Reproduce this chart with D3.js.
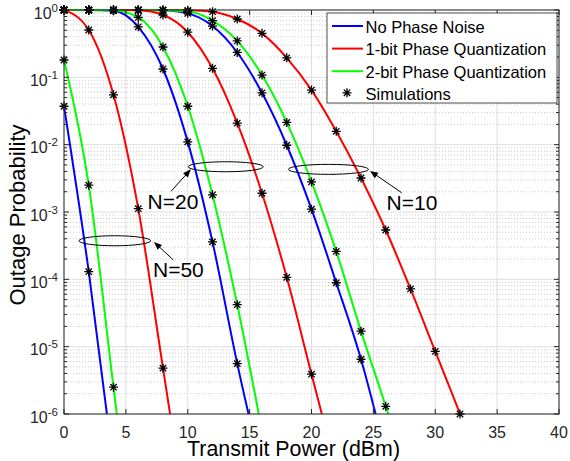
<!DOCTYPE html>
<html>
<head>
<meta charset="utf-8">
<script src="https://cdn.jsdelivr.net/npm/d3@7"></script>
<style>
body{margin:0;background:#fff;}
svg{font-family:"Liberation Sans",Arial,Helvetica,sans-serif;}
</style>
</head>
<body>
<div class="chart_container"></div>
<script>
// transmit power (dBm), one point every 2 dBm
var power = [0,2,4,6,8,10,12,14,16,18,20,22,24,26,28,30,32,34];

// outage probability (last point of each list lies just below 1e-6)
var noNoiseN10 = [1,1,1,1,0.989,0.891,0.578,0.234,0.0589,9.8e-3,1.1e-3,8.9e-5,6.5e-6,2.5e-7];
var oneBitN10  = [1,1,1,1,1,0.989,0.944,0.735,0.450,0.195,0.0646,0.0158,3.2e-3,5.4e-4,7.2e-5,8.5e-6,1.0e-6,1.0e-7];
var twoBitN10  = [1,1,1,1,0.995,0.955,0.693,0.347,0.108,0.0214,2.8e-3,2.6e-4,1.7e-5,1.3e-6,8.3e-8];

var noNoiseN20 = [1,1,0.977,0.562,0.133,0.011,3.6e-4,5.6e-6,1.4e-7];
var oneBitN20  = [1,1,1,0.989,0.843,0.468,0.136,0.0209,1.9e-3,1.07e-4,3.9e-6,1.5e-7];
var twoBitN20  = [1,1,0.989,0.776,0.282,0.0372,1.8e-3,4.2e-5,5.6e-7];

var noNoiseN50 = [0.0372,1.3e-4,1.7e-7];
var oneBitN50  = [1,0.505,0.055,1.12e-3,4.8e-6,2e-8];
var twoBitN50  = [0.181,2.5e-3,2.5e-6,2.5e-9];

var xTicks = [0,5,10,15,20,25,30,35,40];
var yExponents = [0,-1,-2,-3,-4,-5,-6];
var legendNames = ["No Phase Noise","1-bit Phase Quantization","2-bit Phase Quantization","Simulations"];

// annotation ellipses: [x from, x to] in dBm, y in probability
var groupLabels = ["N=10","N=20","N=50"];
var ellipseX = [[18.13,24.6],[10.04,16.1],[1.21,7.0]];
var ellipseY = [4.3e-3,4.7e-3,3.74e-4];
var arrowTip = [[24.73,4.07e-3],[10.25,4.3e-3],[7.27,3.6e-4]];
var arrowTail = [[27.29,1.93e-3],[8.65,2.03e-3],[8.83,1.94e-4]];
var labelPos = [[26.07,1.07e-3],[6.75,1.1e-3],[7.19,1.09e-4]];

var blue = "#0000ff", red = "#ff0000", green = "#00ff00";
var series = [
    {v: noNoiseN10, c: blue}, {v: oneBitN10, c: red}, {v: twoBitN10, c: green},
    {v: noNoiseN20, c: blue}, {v: oneBitN20, c: red}, {v: twoBitN20, c: green},
    {v: noNoiseN50, c: blue}, {v: oneBitN50, c: red}, {v: twoBitN50, c: green}
];

var W = 570, H = 461;
var pLeft = 64, pRight = 559, pTop = 10, pBottom = 414;

var svg = d3.select(".chart_container").append("svg")
    .attr("width", W).attr("height", H);

var x = d3.scaleLinear().domain([0,40]).range([pLeft,pRight]);
var y = d3.scaleLog().domain([1e-6,1]).range([pBottom,pTop]);

// minor y values
var yMinor = [];
yExponents.slice(0,-1).forEach(function(e){
    for (var m = 2; m <= 9; m++) yMinor.push(m*Math.pow(10,e-1));
});

// grid
var grid = svg.append("g");
grid.selectAll(".minor").data(yMinor).enter().append("line")
    .attr("x1",pLeft).attr("x2",pRight)
    .attr("y1",function(d){return y(d);}).attr("y2",function(d){return y(d);})
    .attr("stroke","#bdbdbd").attr("stroke-width",0.8).attr("stroke-dasharray","1,2");
grid.selectAll(".vx").data(xTicks).enter().append("line")
    .attr("x1",function(d){return x(d);}).attr("x2",function(d){return x(d);})
    .attr("y1",pTop).attr("y2",pBottom)
    .attr("stroke","#dedede").attr("stroke-width",1);
grid.selectAll(".hy").data(yExponents).enter().append("line")
    .attr("x1",pLeft).attr("x2",pRight)
    .attr("y1",function(d){return y(Math.pow(10,d));}).attr("y2",function(d){return y(Math.pow(10,d));})
    .attr("stroke","#dedede").attr("stroke-width",1);

// clip for lines
svg.append("clipPath").attr("id","plotclip").append("rect")
    .attr("x",pLeft).attr("y",pTop-2).attr("width",pRight-pLeft).attr("height",pBottom-pTop+2);

var line = d3.line()
    .x(function(d){return x(d[0]);})
    .y(function(d){return y(d[1]);})
    .curve(d3.curveMonotoneX);

var lines = svg.append("g").attr("clip-path","url(#plotclip)");
series.forEach(function(s){
    var pts = s.v.map(function(v,i){return [power[i], v];});
    lines.append("path").datum(pts)
        .attr("d", line)
        .attr("fill","none").attr("stroke",s.c).attr("stroke-width",2);
});

// simulation markers
var star = "M-4.5,0H4.5M0,-4.5V4.5M-3.2,-3.2L3.2,3.2M-3.2,3.2L3.2,-3.2";
var marks = svg.append("g");
series.forEach(function(s){
    s.v.forEach(function(v,i){
        if (v < 0.95e-6) return;
        marks.append("path").attr("d",star)
            .attr("transform","translate("+x(power[i])+","+y(v)+")")
            .attr("stroke","#000").attr("stroke-width",1.3).attr("fill","none");
    });
});

// axes box and ticks
var ax = svg.append("g").attr("stroke","#262626");
ax.append("rect").attr("x",pLeft).attr("y",pTop).attr("width",pRight-pLeft).attr("height",pBottom-pTop)
    .attr("fill","none").attr("stroke-width",1);
xTicks.forEach(function(t){
    ax.append("line").attr("x1",x(t)).attr("x2",x(t)).attr("y1",pBottom).attr("y2",pBottom-5);
    ax.append("line").attr("x1",x(t)).attr("x2",x(t)).attr("y1",pTop).attr("y2",pTop+5);
});
yExponents.forEach(function(e){
    var yy = y(Math.pow(10,e));
    ax.append("line").attr("x1",pLeft).attr("x2",pLeft+5).attr("y1",yy).attr("y2",yy);
    ax.append("line").attr("x1",pRight).attr("x2",pRight-5).attr("y1",yy).attr("y2",yy);
});
yMinor.forEach(function(d){
    var yy = y(d);
    ax.append("line").attr("x1",pLeft).attr("x2",pLeft+3).attr("y1",yy).attr("y2",yy);
    ax.append("line").attr("x1",pRight).attr("x2",pRight-3).attr("y1",yy).attr("y2",yy);
});

// tick labels
var txt = svg.append("g").attr("fill","#262626");
xTicks.forEach(function(t){
    txt.append("text").attr("x",x(t)).attr("y",438).attr("text-anchor","middle")
        .attr("font-size",16).text(t);
});
yExponents.forEach(function(e){
    var t = txt.append("text").attr("x",58).attr("y",y(Math.pow(10,e))+8.5)
        .attr("text-anchor","end").attr("font-size",16);
    t.append("tspan").text("10");
    t.append("tspan").attr("dy",-7).attr("font-size",11.5).text(e);
});

// axis labels
svg.append("text").attr("x",293.5).attr("y",456).attr("text-anchor","middle")
    .attr("font-size",22).attr("textLength",213).attr("lengthAdjust","spacingAndGlyphs")
    .attr("fill","#000").text("Transmit Power (dBm)");
svg.append("text").attr("transform","translate(25,"+((pTop+pBottom)/2+3)+") rotate(-90)")
    .attr("text-anchor","middle").attr("font-size",22).attr("fill","#000")
    .text("Outage Probability");

// annotations
var ann = svg.append("g");
groupLabels.forEach(function(lbl,i){
    var x0 = x(ellipseX[i][0]), x1 = x(ellipseX[i][1]);
    ann.append("ellipse").attr("cx",(x0+x1)/2).attr("cy",y(ellipseY[i]))
        .attr("rx",(x1-x0)/2).attr("ry",5)
        .attr("fill","none").attr("stroke","#000").attr("stroke-width",1);
    var tx = x(arrowTip[i][0]), ty = y(arrowTip[i][1]);
    var sx = x(arrowTail[i][0]), sy = y(arrowTail[i][1]);
    var a = Math.atan2(ty-sy, tx-sx);
    ann.append("line").attr("x1",sx).attr("y1",sy)
        .attr("x2",tx-5*Math.cos(a)).attr("y2",ty-5*Math.sin(a))
        .attr("stroke","#000").attr("stroke-width",1);
    var p1 = [tx-8*Math.cos(a)+3.2*Math.sin(a), ty-8*Math.sin(a)-3.2*Math.cos(a)];
    var p2 = [tx-8*Math.cos(a)-3.2*Math.sin(a), ty-8*Math.sin(a)+3.2*Math.cos(a)];
    ann.append("path").attr("d","M"+tx+","+ty+"L"+p1+"L"+p2+"Z").attr("fill","#000");
    ann.append("text").attr("x",x(labelPos[i][0])).attr("y",y(labelPos[i][1]))
        .attr("font-size",21).attr("fill","#000").text(lbl);
});

// legend
var lg = svg.append("g");
lg.append("rect").attr("x",327).attr("y",13).attr("width",230).attr("height",90)
    .attr("fill","#fff").attr("stroke","#000").attr("stroke-width",0.7);
var legendColors = [blue, red, green, null];
legendNames.forEach(function(n,i){
    var base = 32.5 + i*22.6;
    if (legendColors[i]) {
        lg.append("line").attr("x1",332).attr("x2",363).attr("y1",base-6.5).attr("y2",base-6.5)
            .attr("stroke",legendColors[i]).attr("stroke-width",2);
    } else {
        lg.append("path").attr("d",star).attr("transform","translate(347,"+(base-7.5)+")")
            .attr("stroke","#000").attr("stroke-width",1.3).attr("fill","none");
    }
    lg.append("text").attr("x",365.5).attr("y",base).attr("font-size",16.5).attr("fill","#000").text(n);
});
</script>
</body>
</html>
